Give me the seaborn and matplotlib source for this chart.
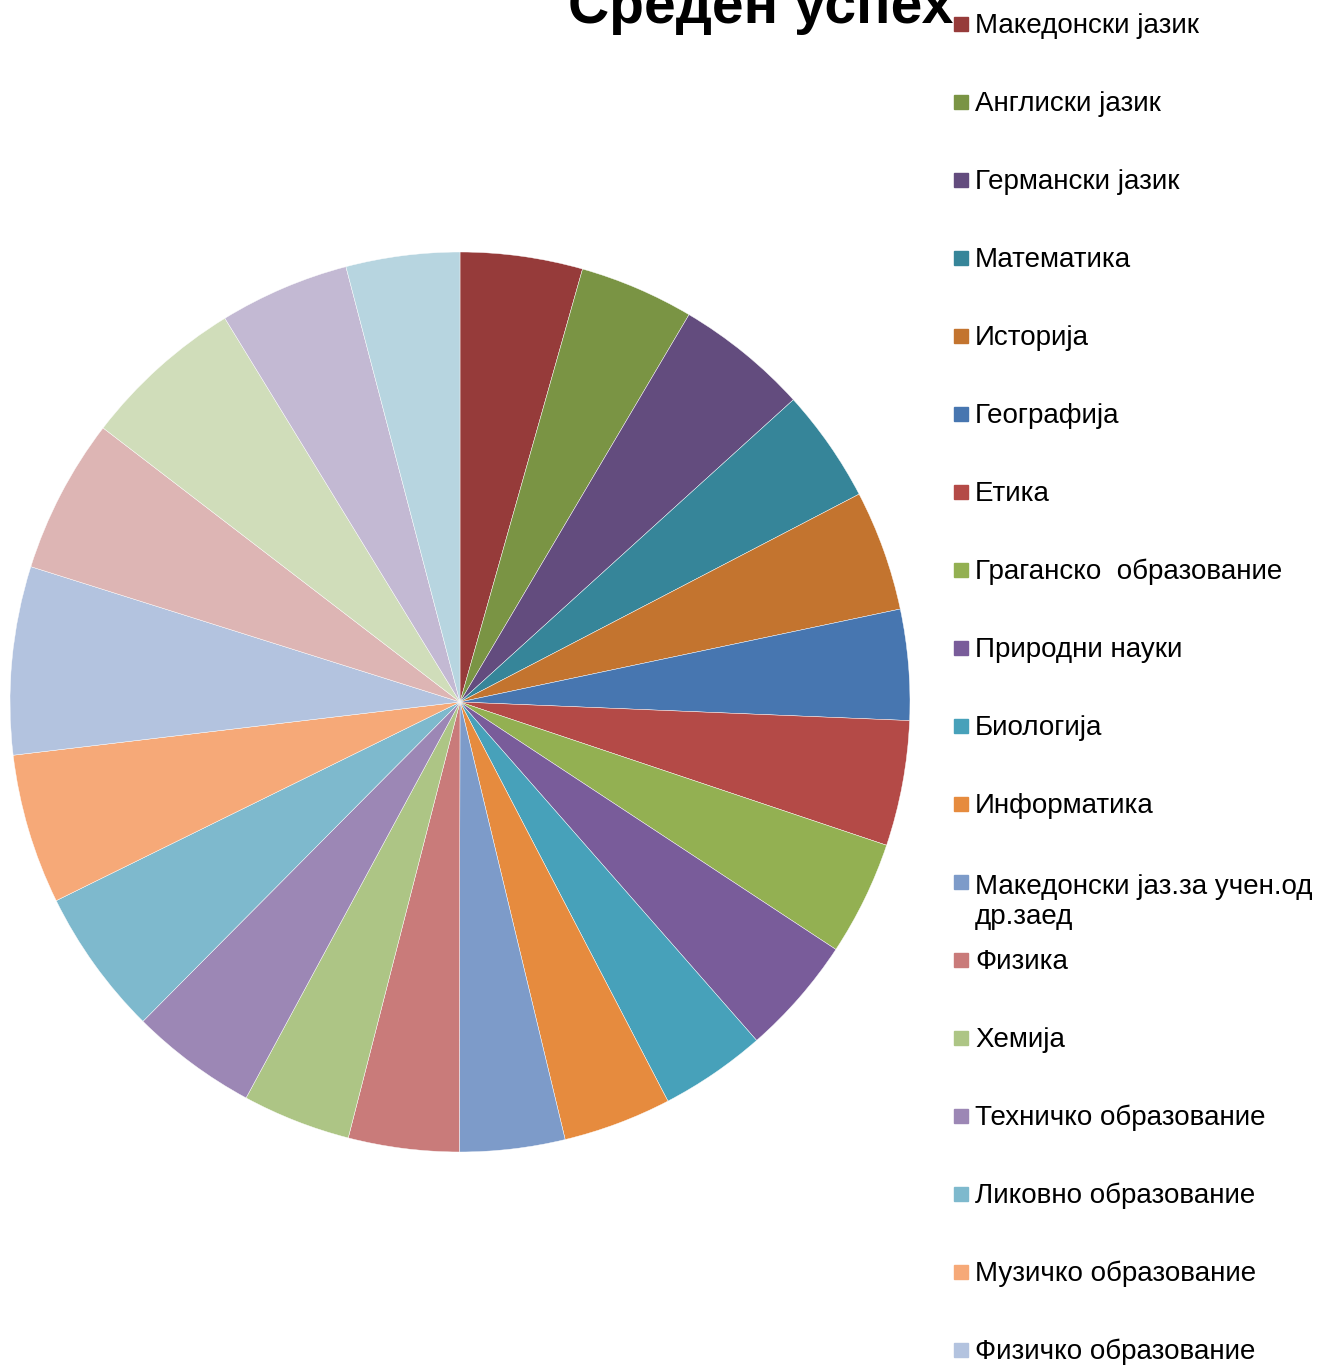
import matplotlib.pyplot as plt
import matplotlib.patches as mpatches
import seaborn as sns

# subjects in the order of the slices (clockwise from the top)
subjects = ['Македонски јазик', 'Англиски јазик', 'Германски јазик', 'Математика',
            'Историја', 'Географија', 'Етика', 'Граганско  образование',
            'Природни науки', 'Биологија', 'Информатика',
            'Македонски јаз.за учен.од\nдр.заед', 'Физика', 'Хемија',
            'Техничко образование', 'Ликовно образование', 'Музичко образование',
            'Физичко образование', 'Класен час', 'Проектни активности',
            'Иновации', 'Вештини за живеење']

# share of each slice [%]
values = [4.39, 4.11, 4.78, 4.08, 4.33, 3.97, 4.50, 4.11, 4.28, 3.81, 3.89,
          3.78, 3.97, 3.89, 4.56, 5.28, 5.39, 6.75, 5.56, 5.83, 4.67, 4.08]

colors = ['#963B3A', '#7A9444', '#634C7E', '#368599', '#C3742F', '#4776B0',
          '#B44A47', '#93B052', '#795C9A', '#47A1BA', '#E68B3E', '#7D9BC9',
          '#C97B7A', '#ADC585', '#9C87B5', '#7EB9CD', '#F6A978', '#B3C3DF',
          '#DDB5B4', '#D0DDBA', '#C3B9D3', '#B7D5E0']

sns.set_style("white")
plt.rcParams['font.family'] = ['Liberation Sans', 'DejaVu Sans']

W, H = 1320, 1369
fig = plt.figure(figsize=(W / 100, H / 100), dpi=100)

# pie -------------------------------------------------
ax = fig.add_axes([10 / W, (H - 1152) / H, 900 / W, 900 / H])
ax.pie(values, colors=colors, startangle=90, counterclock=False,
       wedgeprops=dict(linewidth=0.3, edgecolor='white'))
ax.set_xlim(-1, 1)
ax.set_ylim(-1, 1)
ax.set_aspect('equal')
ax.axis('off')

# title (top part is cut off in the original)
fig.text(761 / W, 1 - 23 / H, 'Среден успех', ha='center', va='baseline',
         fontsize=41, fontweight='bold', color='black')

# legend, one entry per 78 px like the excel one
fs = 20
for i, (name, c) in enumerate(zip(subjects, colors)):
    base = 33 + i * 78
    fig.add_artist(mpatches.Rectangle((954 / W, 1 - (base - 2) / H), 14 / W, 14 / H,
                                      transform=fig.transFigure, color=c))
    # multi-line labels: matplotlib puts the last line on the baseline
    extra = name.count('\n') * 1.2 * fs * 100 / 72
    fig.text(975 / W, 1 - (base + extra) / H, name, fontsize=fs,
             va='baseline', color='black')

fig.savefig('out.png', dpi=100)
